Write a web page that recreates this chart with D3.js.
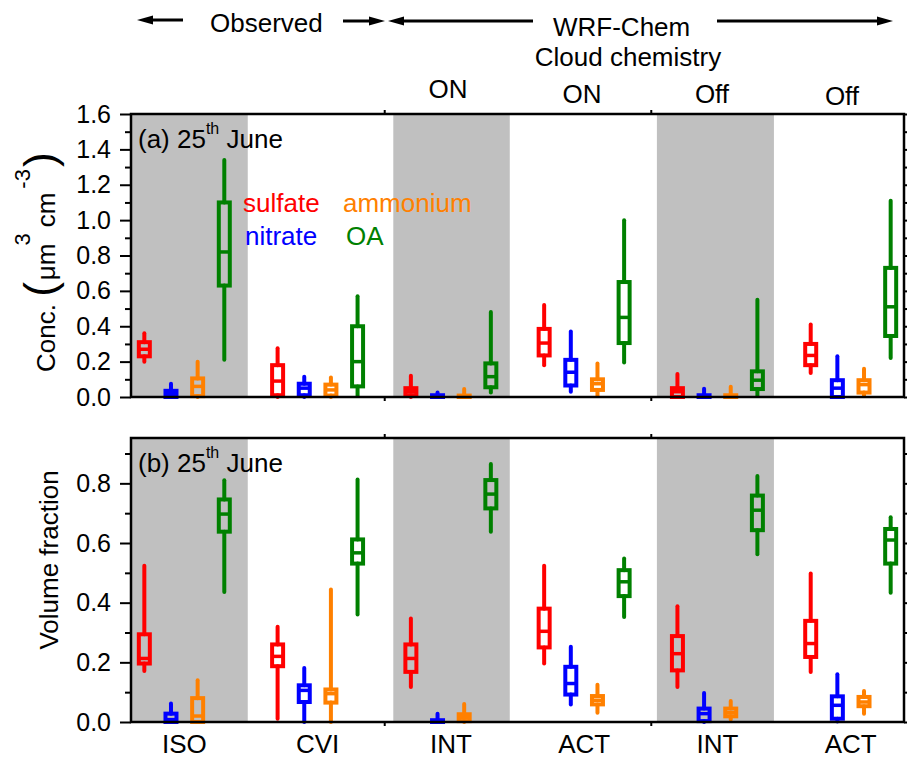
<!DOCTYPE html>
<html>
<head>
<meta charset="utf-8">
<script src="https://cdn.jsdelivr.net/npm/d3@7"></script>
<style>
  body { margin: 0; background: #fff; }
  svg { display: block; }
  text { font-family: "Liberation Sans", Arial, sans-serif; fill: #000; }
</style>
</head>
<body>
<svg id="chart" width="907" height="760"></svg>
<script>
// groups along the x axis and the four species in each group
const groups = ["ISO", "CVI", "INT", "ACT", "INT", "ACT"];
const species = ["sulfate", "nitrate", "ammonium", "OA"];
const speciesColors = ["#ff0000", "#0000ff", "#ff8000", "#008000"];
// shaded backgrounds, in x units
const shadeBands = [[0.5, 4.88], [10.34, 14.71], [20.23, 24.62]];

// each entry: [min, q1, median, q3, max], one per group
const concSulfate = [
  [0.20, 0.23, 0.27, 0.31, 0.36], [0.0, 0.01, 0.09, 0.18, 0.275], [0.0, 0.01, 0.03, 0.05, 0.12],
  [0.18, 0.235, 0.305, 0.385, 0.52], [0.0, 0.0, 0.03, 0.05, 0.13], [0.135, 0.18, 0.235, 0.30, 0.41]
];
const concNitrate = [
  [0.0, 0.0, 0.02, 0.035, 0.075], [0.0, 0.01, 0.05, 0.075, 0.115], [0.0, 0.0, 0.004, 0.01, 0.025],
  [0.03, 0.065, 0.14, 0.21, 0.37], [0.0, 0.0, 0.003, 0.01, 0.047], [0.0, 0.0, 0.05, 0.095, 0.23]
];
const concAmmonium = [
  [0.0, 0.005, 0.06, 0.105, 0.20], [0.0, 0.008, 0.04, 0.07, 0.11], [0.0, 0.0, 0.003, 0.008, 0.045],
  [0.01, 0.04, 0.075, 0.10, 0.19], [0.0, 0.0, 0.003, 0.01, 0.058], [0.01, 0.025, 0.07, 0.095, 0.16]
];
const concOA = [
  [0.21, 0.63, 0.82, 1.10, 1.34], [0.01, 0.06, 0.20, 0.40, 0.57], [0.025, 0.055, 0.115, 0.19, 0.48],
  [0.195, 0.305, 0.45, 0.65, 1.0], [0.01, 0.045, 0.095, 0.145, 0.55], [0.22, 0.345, 0.51, 0.73, 1.11]
];

const fracSulfate = [
  [0.171, 0.196, 0.213, 0.294, 0.524], [0.011, 0.187, 0.22, 0.26, 0.319], [0.117, 0.168, 0.213, 0.26, 0.347],
  [0.196, 0.25, 0.304, 0.38, 0.524], [0.117, 0.173, 0.229, 0.288, 0.388], [0.168, 0.218, 0.263, 0.339, 0.498]
];
const fracNitrate = [
  [0.0, 0.0, 0.008, 0.028, 0.062], [0.0, 0.067, 0.106, 0.123, 0.181], [0.0, 0.0, 0.002, 0.006, 0.028],
  [0.059, 0.092, 0.129, 0.185, 0.252], [0.0, 0.003, 0.028, 0.045, 0.097], [0.002, 0.011, 0.056, 0.086, 0.16]
];
const fracAmmonium = [
  [0.0, 0.0, 0.02, 0.08, 0.14], [0.0, 0.065, 0.095, 0.109, 0.444], [0.0, 0.003, 0.015, 0.026, 0.06],
  [0.031, 0.059, 0.073, 0.087, 0.125], [0.008, 0.019, 0.031, 0.045, 0.07], [0.028, 0.053, 0.067, 0.084, 0.104]
];
const fracOA = [
  [0.436, 0.638, 0.697, 0.746, 0.81], [0.36, 0.531, 0.567, 0.612, 0.813], [0.638, 0.716, 0.764, 0.811, 0.865],
  [0.352, 0.422, 0.47, 0.509, 0.548], [0.562, 0.643, 0.71, 0.759, 0.825], [0.433, 0.531, 0.61, 0.647, 0.686]
];

const concTicks = [0, 0.2, 0.4, 0.6, 0.8, 1.0, 1.2, 1.4, 1.6];
const fracTicks = [0, 0.2, 0.4, 0.6, 0.8];

const svg = d3.select("#chart");
const left = 131, right = 904;

// one x unit per box, a gap of one unit between groups
const x = d3.scaleLinear().domain([0.5, 29.5]).range([left, right]);
const boxW = 11;

function drawPanel(cfg) {
  const y = d3.scaleLinear().domain([0, cfg.yMax]).range([cfg.bottom, cfg.top]);
  const g = svg.append("g");

  // shaded bands
  g.selectAll("rect.band")
    .data(shadeBands)
    .enter()
    .append("rect")
    .attr("x", (d) => x(d[0]))
    .attr("width", (d) => x(d[1]) - x(d[0]))
    .attr("y", cfg.top)
    .attr("height", cfg.bottom - cfg.top)
    .attr("fill", "#c0c0c0");

  // boxes
  const series = [cfg.sulfate, cfg.nitrate, cfg.ammonium, cfg.OA];
  const boxes = [];
  series.forEach((vals, si) => {
    vals.forEach((v, gi) => {
      boxes.push({ u: gi * 5 + si + 1, color: speciesColors[si], v: v });
    });
  });

  const bx = g.selectAll("g.box").data(boxes).enter().append("g");
  bx.append("line")
    .attr("x1", (d) => x(d.u)).attr("x2", (d) => x(d.u))
    .attr("y1", (d) => y(d.v[0])).attr("y2", (d) => y(d.v[1]))
    .attr("stroke", (d) => d.color).attr("stroke-width", 4).attr("stroke-linecap", "round");
  bx.append("line")
    .attr("x1", (d) => x(d.u)).attr("x2", (d) => x(d.u))
    .attr("y1", (d) => y(d.v[3])).attr("y2", (d) => y(d.v[4]))
    .attr("stroke", (d) => d.color).attr("stroke-width", 4).attr("stroke-linecap", "round");
  bx.append("rect")
    .attr("x", (d) => x(d.u) - boxW / 2)
    .attr("width", boxW)
    .attr("y", (d) => y(d.v[3]))
    .attr("height", (d) => y(d.v[1]) - y(d.v[3]))
    .attr("fill", "none")
    .attr("stroke", (d) => d.color).attr("stroke-width", 4);
  bx.append("line")
    .attr("x1", (d) => x(d.u) - boxW / 2).attr("x2", (d) => x(d.u) + boxW / 2)
    .attr("y1", (d) => y(d.v[2])).attr("y2", (d) => y(d.v[2]))
    .attr("stroke", (d) => d.color).attr("stroke-width", 3.5);

  // axes
  const minor = d3.range(0.1, cfg.yMax + 0.001, 0.2);
  const fmt = d3.format(".1f");
  const ax = g.append("g").attr("transform", `translate(${left},0)`)
    .call(d3.axisLeft(y).tickValues(cfg.ticks).tickSize(11).tickPadding(9).tickFormat(fmt));
  g.append("g").attr("transform", `translate(${left},0)`)
    .call(d3.axisLeft(y).tickValues(minor).tickSize(6).tickFormat(""));
  g.append("g").attr("transform", `translate(${right},0)`)
    .call(d3.axisRight(y).tickValues(cfg.ticks).tickSize(11).tickFormat(""));
  g.append("g").attr("transform", `translate(${right},0)`)
    .call(d3.axisRight(y).tickValues(minor).tickSize(6).tickFormat(""));
  g.append("g").attr("transform", `translate(0,${cfg.top})`)
    .call(d3.axisTop(x).tickValues([10, 20]).tickSize(4).tickFormat(""));
  g.append("g").attr("transform", `translate(0,${cfg.bottom})`)
    .call(d3.axisBottom(x).tickValues([10, 20]).tickSize(4).tickFormat(""));
  g.selectAll(".domain").remove();
  g.selectAll(".tick line").attr("stroke", "#000").attr("stroke-width", 2);
  ax.selectAll("text").attr("font-size", 25).attr("fill", "#000")
    .style("font-family", '"Liberation Sans", Arial, sans-serif');

  // frame
  g.append("rect")
    .attr("x", left).attr("y", cfg.top)
    .attr("width", right - left).attr("height", cfg.bottom - cfg.top)
    .attr("fill", "none").attr("stroke", "#000").attr("stroke-width", 2.5);

  // panel label
  const pl = g.append("text").attr("x", 138).attr("y", cfg.top + 34).attr("font-size", 26);
  pl.append("tspan").text(cfg.label + " 25");
  pl.append("tspan").attr("font-size", 16).attr("dy", -14).text("th");
  pl.append("tspan").attr("dy", 14).text(" June");

  return y;
}

drawPanel({
  top: 114, bottom: 397, yMax: 1.6, ticks: concTicks, label: "(a)",
  sulfate: concSulfate, nitrate: concNitrate, ammonium: concAmmonium, OA: concOA
});
drawPanel({
  top: 438, bottom: 722, yMax: 0.952, ticks: fracTicks, label: "(b)",
  sulfate: fracSulfate, nitrate: fracNitrate, ammonium: fracAmmonium, OA: fracOA
});

// legend in panel (a)
const legend = [
  { name: "sulfate", x: 243, y: 212, c: speciesColors[0] },
  { name: "ammonium", x: 343, y: 212, c: speciesColors[2] },
  { name: "nitrate", x: 245, y: 245, c: speciesColors[1] },
  { name: "OA", x: 346, y: 245, c: speciesColors[3] }
];
svg.append("g").selectAll("text").data(legend).enter().append("text")
  .attr("x", (d) => d.x).attr("y", (d) => d.y)
  .attr("font-size", 26).style("fill", (d) => d.c).text((d) => d.name);

// y axis titles
const t1 = svg.append("text").attr("transform", "translate(55,372) rotate(-90)").attr("font-size", 26);
t1.append("tspan").text("Conc. ");
t1.append("tspan").attr("font-size", 44).attr("dy", 0).text("(");
t1.append("tspan").attr("dx", 2).text("μm");
t1.append("tspan").attr("font-size", 22).attr("dy", -25).attr("dx", -2).text("3");
t1.append("tspan").attr("dy", 25).attr("dx", 6).text("cm");
t1.append("tspan").attr("font-size", 22).attr("dy", -25).attr("dx", 4).text("-3");
t1.append("tspan").attr("font-size", 44).attr("dy", 25).attr("dx", 2).text(")");

svg.append("text").attr("transform", "translate(58,560) rotate(-90)")
  .attr("text-anchor", "middle").attr("font-size", 26).text("Volume fraction");

// x group labels
svg.append("g").selectAll("text").data(groups).enter().append("text")
  .attr("x", (d, i) => x(i * 5 + 2.5))
  .attr("y", 753)
  .attr("text-anchor", "middle").attr("font-size", 26).text((d) => d);

// header annotation
const hdr = svg.append("g");
function arrow(x1, x2, yy) {
  const dir = Math.sign(x2 - x1);
  hdr.append("line").attr("x1", x1).attr("x2", x2 - dir * 12).attr("y1", yy).attr("y2", yy)
    .attr("stroke", "#000").attr("stroke-width", 3);
  hdr.append("path")
    .attr("d", `M${x2},${yy} L${x2 - dir * 16},${yy - 4.5} L${x2 - dir * 16},${yy + 4.5} Z`)
    .attr("fill", "#000");
}
arrow(183, 137, 20);
arrow(343, 385, 21);
arrow(533, 388, 21);
arrow(717, 893, 21);
hdr.append("text").attr("x", 210).attr("y", 32).attr("font-size", 26).text("Observed");
hdr.append("text").attr("x", 553).attr("y", 36).attr("font-size", 26).text("WRF-Chem");
hdr.append("text").attr("x", 628).attr("y", 66).attr("text-anchor", "middle").attr("font-size", 26).text("Cloud chemistry");
const onoff = [
  { t: "ON", x: 448, y: 98 },
  { t: "ON", x: 582, y: 103 },
  { t: "Off", x: 712, y: 103 },
  { t: "Off", x: 842, y: 105 }
];
hdr.selectAll("text.onoff").data(onoff).enter().append("text")
  .attr("x", (d) => d.x).attr("y", (d) => d.y)
  .attr("text-anchor", "middle").attr("font-size", 26).text((d) => d.t);
</script>
</body>
</html>
